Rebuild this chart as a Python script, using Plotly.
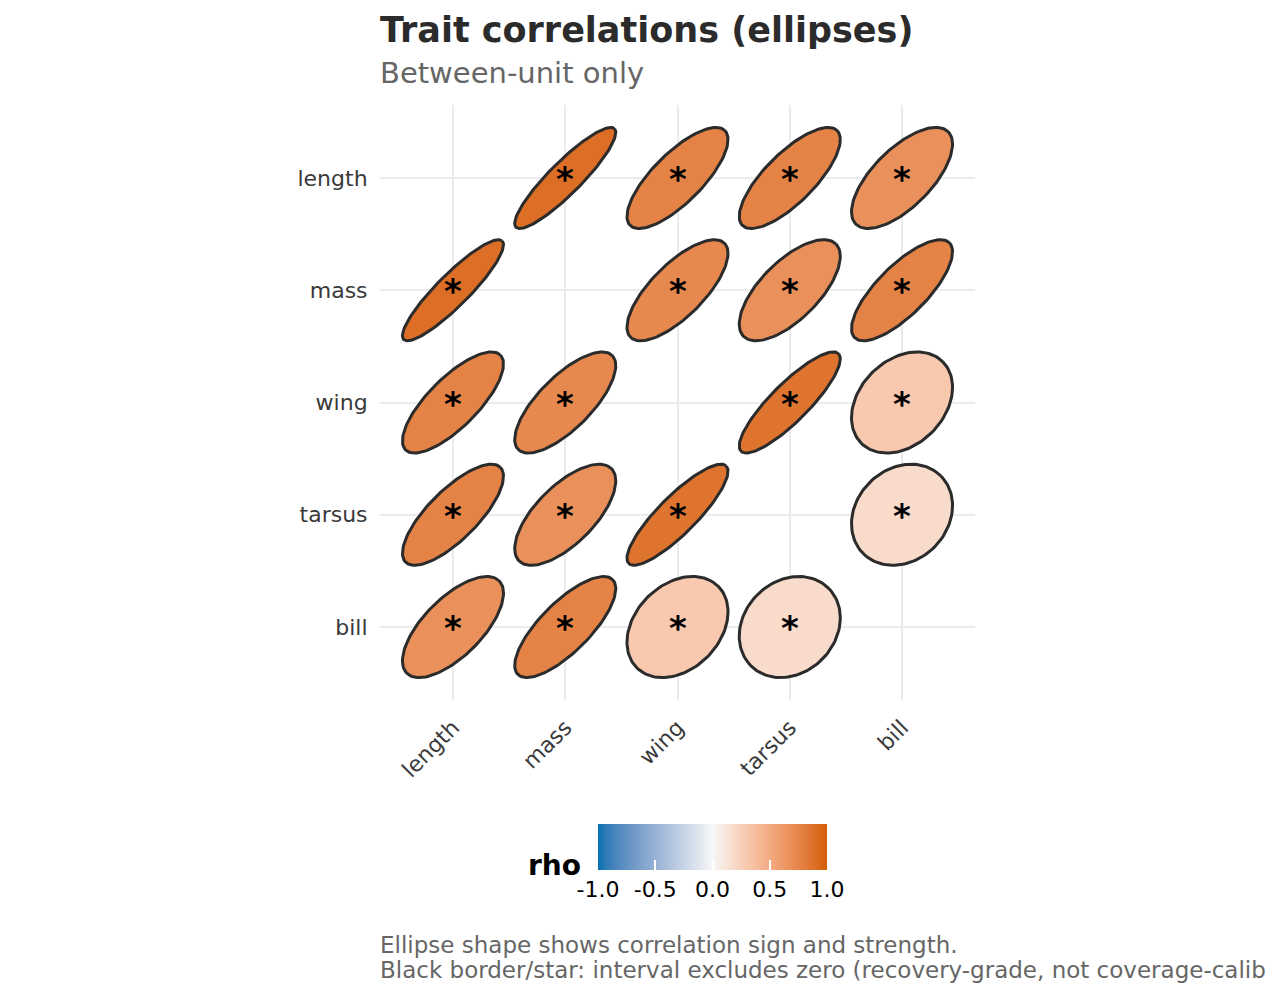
import math
import plotly.graph_objects as go

# ---------------- data ----------------
traits = ["length", "mass", "wing", "tarsus", "bill"]
rho = [
    [None, 0.90, 0.76, 0.76, 0.67],
    [0.90, None, 0.73, 0.67, 0.76],
    [0.76, 0.73, None, 0.86, 0.30],
    [0.76, 0.67, 0.86, None, 0.18],
    [0.67, 0.76, 0.30, 0.18, None],
]
significant = [
    [False, True, True, True, True],
    [True, False, True, True, True],
    [True, True, False, True, True],
    [True, True, True, False, True],
    [True, True, True, True, False],
]
legend_ticks = [-1.0, -0.5, 0.0, 0.5, 1.0]

LOW, MID, HIGH = "#0072B2", "#F7F7F7", "#D55E00"
FONT = "DejaVu Sans"
W, H = 1267, 998
ML, MR, MT, MB = 380, 292, 105, 298
PW, PH = W - ML - MR, H - MT - MB


# ---------------- Lab colour interpolation ----------------
def hex_to_rgb(h):
    h = h.lstrip("#")
    return [int(h[i:i + 2], 16) for i in (0, 2, 4)]


def to_lab(h):
    rgb = []
    for c in hex_to_rgb(h):
        c = c / 255
        rgb.append(c / 12.92 if c <= 0.04045 else ((c + 0.055) / 1.055) ** 2.4)
    r, g, b = rgb
    X = (0.4124 * r + 0.3576 * g + 0.1805 * b) / 0.95047
    Y = (0.2126 * r + 0.7152 * g + 0.0722 * b)
    Z = (0.0193 * r + 0.1192 * g + 0.9505 * b) / 1.08883

    def f(t):
        return t ** (1 / 3) if t > (6 / 29) ** 3 else t / (3 * (6 / 29) ** 2) + 4 / 29

    return (116 * f(Y) - 16, 500 * (f(X) - f(Y)), 200 * (f(Y) - f(Z)))


def from_lab(L, a, b):
    fy = (L + 16) / 116
    fx = fy + a / 500
    fz = fy - b / 200

    def finv(t):
        return t ** 3 if t > 6 / 29 else 3 * (6 / 29) ** 2 * (t - 4 / 29)

    X, Y, Z = finv(fx) * 0.95047, finv(fy), finv(fz) * 1.08883
    r = 3.2406 * X - 1.5372 * Y - 0.4986 * Z
    g = -0.9689 * X + 1.8758 * Y + 0.0415 * Z
    bb = 0.0557 * X - 0.2040 * Y + 1.0570 * Z
    out = []
    for c in (r, g, bb):
        c = 12.92 * c if c <= 0.0031308 else 1.055 * c ** (1 / 2.4) - 0.055
        out.append(max(0, min(255, round(c * 255))))
    return "#%02X%02X%02X" % tuple(out)


LAB_LOW, LAB_MID, LAB_HIGH = to_lab(LOW), to_lab(MID), to_lab(HIGH)


def rho_color(v):
    if v >= 0:
        a, b, t = LAB_MID, LAB_HIGH, v
    else:
        a, b, t = LAB_MID, LAB_LOW, -v
    return from_lab(*[a[i] + (b[i] - a[i]) * t for i in range(3)])


colorscale = []
nstops = 40
for i in range(nstops + 1):
    v = -1 + 2 * i / nstops
    colorscale.append([i / nstops, rho_color(v)])


def px(xpix):
    return (xpix - ML) / PW


def py(ypix):
    return (H - MB - ypix) / PH


# ---------------- figure ----------------
fig = go.Figure()
n = len(traits)
scale = 0.45
NPTS = 120
star_annotations = []
for i, row_name in enumerate(traits):          # row -> y
    for j, col_name in enumerate(traits):      # col -> x
        r = rho[i][j]
        if r is None:
            continue
        cx = j + 1
        cy = n - i
        d = math.acos(r)
        xs, ys = [], []
        for k in range(NPTS + 1):
            t = 2 * math.pi * k / NPTS
            xs.append(cx + scale * math.cos(t + d / 2))
            ys.append(cy + scale * math.cos(t - d / 2))
        fig.add_trace(go.Scatter(
            x=xs, y=ys, mode="lines", fill="toself",
            fillcolor=rho_color(r),
            line=dict(color="#2B2B2B", width=3),
            hoverinfo="skip", showlegend=False,
        ))
        if significant[i][j]:
            star_annotations.append(dict(
                x=cx, y=cy, xref="x", yref="y", text="<b>*</b>",
                showarrow=False, xanchor="center", yanchor="middle",
                yshift=-1,
                font=dict(family=FONT, size=34, color="#000000"),
            ))

# colour bar carrier
BAR_LEFT, BAR_LEN, BAR_TOP, BAR_THICK = 598, 229, 824, 46
fig.add_trace(go.Scatter(
    x=[1, 1], y=[1, 1], mode="markers", showlegend=False, hoverinfo="skip",
    marker=dict(
        size=0.001, opacity=0, color=[-1, 1], cmin=-1, cmax=1,
        colorscale=colorscale, showscale=True,
        colorbar=dict(
            orientation="h",
            xref="paper", yref="container",
            x=px(BAR_LEFT + BAR_LEN / 2), xanchor="center",
            y=1 - BAR_TOP / H, yanchor="top",
            len=BAR_LEN, lenmode="pixels",
            thickness=BAR_THICK, thicknessmode="pixels",
            xpad=0, ypad=0, outlinewidth=0,
            tickvals=legend_ticks,
            ticktext=["%.1f" % v for v in legend_ticks],
            ticks="inside", ticklen=10, tickcolor="#FFFFFF", tickwidth=2,
            tickfont=dict(family=FONT, size=22, color="#000000"),
        ),
    ),
))

# white tick marks along the top edge of the colour bar
shapes = []
for v in legend_ticks:
    xv = px(BAR_LEFT + (v + 1) / 2 * BAR_LEN)
    shapes.append(dict(type="line", xref="paper", yref="paper", layer="above",
                       x0=xv, x1=xv, y0=py(BAR_TOP), y1=py(BAR_TOP + 10),
                       line=dict(color="#FFFFFF", width=2)))

axis_common = dict(
    range=[0.35, 5.65], showgrid=True, gridcolor="#EBEBEB", gridwidth=2,
    zeroline=False, showline=False, fixedrange=True,
    tickvals=list(range(1, n + 1)),
    tickfont=dict(family=FONT, size=22, color="#3A3A3A"),
    ticks="outside", tickcolor="rgba(0,0,0,0)",
)

fig.update_layout(
    width=W, height=H,
    margin=dict(l=ML, r=MR, t=MT, b=MB, pad=0),
    paper_bgcolor="#FFFFFF", plot_bgcolor="#FFFFFF",
    font=dict(family=FONT),
    xaxis=dict(axis_common, ticktext=traits, tickangle=-45, ticklen=5),
    yaxis=dict(axis_common, ticktext=list(reversed(traits)), ticklen=7),
    shapes=shapes,
)

annotations = [
    dict(text="<b>Trait correlations (ellipses)</b>", x=px(378), y=py(30),
         font=dict(family=FONT, size=35, color="#2B2B2B")),
    dict(text="Between-unit only", x=px(378), y=py(73),
         font=dict(family=FONT, size=29, color="#666666")),
    dict(text="Ellipse shape shows correlation sign and strength.", x=px(378), y=py(945),
         font=dict(family=FONT, size=23, color="#666666")),
    dict(text="Black border/star: interval excludes zero (recovery-grade, not coverage-calibrated).",
         x=px(378), y=py(970), font=dict(family=FONT, size=23, color="#666666")),
]
for a in annotations:
    a.update(xref="paper", yref="paper", xanchor="left", yanchor="middle",
             showarrow=False)
annotations.append(dict(
    text="<b>rho</b>", x=px(583), y=py(866), xref="paper", yref="paper",
    xanchor="right", yanchor="middle", showarrow=False,
    font=dict(family=FONT, size=28, color="#000000"),
))
fig.update_layout(annotations=annotations + star_annotations)

fig.write_html("out.html")
